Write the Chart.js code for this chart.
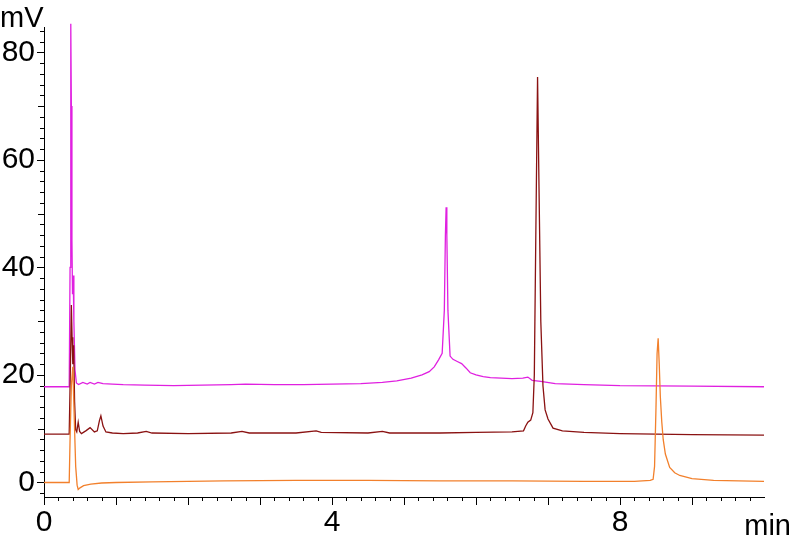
<!DOCTYPE html>
<html>
<head>
<meta charset="utf-8">
<script src="https://cdn.jsdelivr.net/npm/chart.js@4.4.1/dist/chart.umd.min.js"></script>
<style>
  html, body { margin: 0; padding: 0; background: #fff; }
  #wrap { width: 793px; height: 538px; position: relative; }
</style>
</head>
<body>
<div id="wrap"><canvas id="chart"></canvas></div>
<script>
// retention time (min) and signal (mV)
const magentaT = [0, 0.35, 0.362, 0.372, 0.38, 0.388, 0.396, 0.405, 0.415, 0.43, 0.45, 0.48, 0.54, 0.6, 0.64, 0.7, 0.75, 0.82, 0.95, 1.1, 1.4, 1.8, 2.2, 2.6, 2.8, 3.2, 3.6, 4.0, 4.4, 4.7, 4.9, 5.1, 5.25, 5.35, 5.42, 5.48, 5.53, 5.56, 5.575, 5.585, 5.595, 5.61, 5.64, 5.68, 5.74, 5.8, 5.86, 5.92, 6.0, 6.1, 6.2, 6.35, 6.5, 6.65, 6.72, 6.78, 6.9, 7.1, 7.5, 8.0, 9.0, 10.0];
const magentaV = [17.8, 17.8, 40, 85.3, 70, 45, 35, 38.5, 30, 21, 18.5, 18.2, 18.6, 18.3, 18.6, 18.3, 18.6, 18.4, 18.3, 18.2, 18.1, 18.0, 18.1, 18.2, 18.3, 18.2, 18.2, 18.3, 18.4, 18.6, 18.9, 19.4, 20.0, 20.6, 21.5, 22.8, 24.0, 32.0, 46.0, 51.2, 46.0, 32.0, 23.5, 22.9, 22.5, 22.1, 21.3, 20.4, 20.0, 19.7, 19.5, 19.4, 19.3, 19.4, 19.6, 19.0, 18.8, 18.4, 18.2, 18.0, 17.9, 17.8];

const darkRedT = [0, 0.35, 0.365, 0.38, 0.39, 0.4, 0.412, 0.425, 0.44, 0.455, 0.475, 0.495, 0.52, 0.58, 0.64, 0.7, 0.74, 0.77, 0.79, 0.82, 0.86, 0.95, 1.1, 1.3, 1.42, 1.5, 2.0, 2.6, 2.75, 2.85, 3.5, 3.78, 3.85, 4.5, 4.7, 4.8, 5.5, 6.0, 6.5, 6.66, 6.69, 6.72, 6.76, 6.79, 6.81, 6.83, 6.855, 6.875, 6.9, 6.93, 6.96, 7.0, 7.07, 7.2, 7.5, 8.0, 9.0, 10.0];
const darkRedV = [9.0, 9.0, 20, 33, 27, 22, 25.5, 15, 9.8, 9.4, 11.2, 9.5, 9.1, 9.6, 10.2, 9.4, 9.6, 11.5, 12.4, 10.5, 9.4, 9.2, 9.1, 9.2, 9.5, 9.2, 9.1, 9.2, 9.5, 9.2, 9.2, 9.6, 9.3, 9.2, 9.5, 9.2, 9.2, 9.3, 9.4, 9.6, 10.5, 11.2, 11.6, 13.0, 20.0, 45.0, 75.4, 55.0, 30.0, 18.0, 13.5, 11.8, 10.1, 9.6, 9.3, 9.1, 8.9, 8.8];

const orangeT = [0, 0.35, 0.362, 0.38, 0.4, 0.42, 0.44, 0.46, 0.475, 0.5, 0.55, 0.65, 0.8, 1.0, 1.5, 2.5, 3.5, 4.5, 5.5, 6.5, 7.5, 8.2, 8.42, 8.46, 8.48, 8.5, 8.515, 8.53, 8.545, 8.56, 8.58, 8.6, 8.63, 8.69, 8.76, 8.83, 9.0, 9.3, 10.0];
const orangeV = [0, 0, 8, 18, 21.5, 12, 3, -0.5, -1.3, -1.0, -0.6, -0.3, -0.1, 0.0, 0.1, 0.3, 0.4, 0.4, 0.3, 0.3, 0.2, 0.2, 0.4, 0.6, 3, 14, 24, 26.8, 22, 16, 11.3, 8, 5.3, 2.8, 1.8, 1.3, 0.7, 0.4, 0.2];

const xTickValues = [0, 4, 8];
const yTickValues = [0, 20, 40, 60, 80];

const FONT = "'Liberation Sans', Arial, sans-serif";

function pts(ts, vs) {
  return ts.map((t, i) => ({ x: t, y: vs[i] }));
}

// minor/major tick marks and the unit labels
const axisDecor = {
  id: "axisDecor",
  afterDraw(chart) {
    const { ctx, chartArea, scales } = chart;
    const xs = scales.x, ys = scales.y;
    ctx.save();
    ctx.strokeStyle = "#000";
    ctx.lineWidth = 1;
    ctx.beginPath();
    for (let i = 0; i < 50; i++) {
      const t = i * 0.2;
      const px = Math.round(xs.getPixelForValue(t)) + 0.5;
      const len = i % 5 === 0 ? 8 : 4;
      ctx.moveTo(px, chartArea.bottom);
      ctx.lineTo(px, chartArea.bottom + len);
    }
    for (let v = -2; v <= 84; v += 2) {
      const py = Math.round(ys.getPixelForValue(v)) + 0.5;
      const len = v % 20 === 0 ? 7 : (v % 10 === 0 ? 6 : 4);
      ctx.moveTo(chartArea.left, py);
      ctx.lineTo(chartArea.left - len, py);
    }
    ctx.stroke();

    ctx.fillStyle = "#000";
    ctx.font = "29px " + FONT;
    ctx.textBaseline = "alphabetic";
    ctx.textAlign = "left";
    ctx.fillText("mV", 0, 27);
    ctx.textAlign = "right";
    ctx.fillText("min", chart.width - 2, chartArea.bottom + 38);
    ctx.restore();
  },
};

new Chart(document.getElementById("chart"), {
  type: "line",
  data: {
    datasets: [
      { label: "orange", data: pts(orangeT, orangeV), borderColor: "#f2802c" },
      { label: "darkred", data: pts(darkRedT, darkRedV), borderColor: "#8a1212" },
      { label: "magenta", data: pts(magentaT, magentaV), borderColor: "#e020e0" },
    ].map((d) => ({
      ...d,
      borderWidth: 1.3,
      pointRadius: 0,
      tension: 0,
      fill: false,
      clip: false,
    })),
  },
  options: {
    responsive: true,
    maintainAspectRatio: false,
    animation: false,
    layout: { padding: { top: 19, right: 29, left: 0, bottom: 0 } },
    plugins: { legend: { display: false }, tooltip: { enabled: false } },
    scales: {
      x: {
        type: "linear",
        min: 0,
        max: 10,
        afterFit: (s) => { s.height = 41; },
        afterBuildTicks: (s) => { s.ticks = xTickValues.map((v) => ({ value: v })); },
        ticks: { color: "#000", font: { size: 30, family: FONT }, padding: 8, maxRotation: 0 },
        grid: { display: true, drawOnChartArea: false, drawTicks: false },
        border: { display: true, color: "#000", width: 1 },
      },
      y: {
        type: "linear",
        min: -2.7,
        max: 84.7,
        afterFit: (s) => { s.width = 44; },
        afterBuildTicks: (s) => { s.ticks = yTickValues.map((v) => ({ value: v })); },
        ticks: { color: "#000", font: { size: 30, family: FONT }, padding: 9 },
        grid: { display: true, drawOnChartArea: false, drawTicks: false },
        border: { display: true, color: "#000", width: 1 },
      },
    },
  },
  plugins: [axisDecor],
});
</script>
</body>
</html>
